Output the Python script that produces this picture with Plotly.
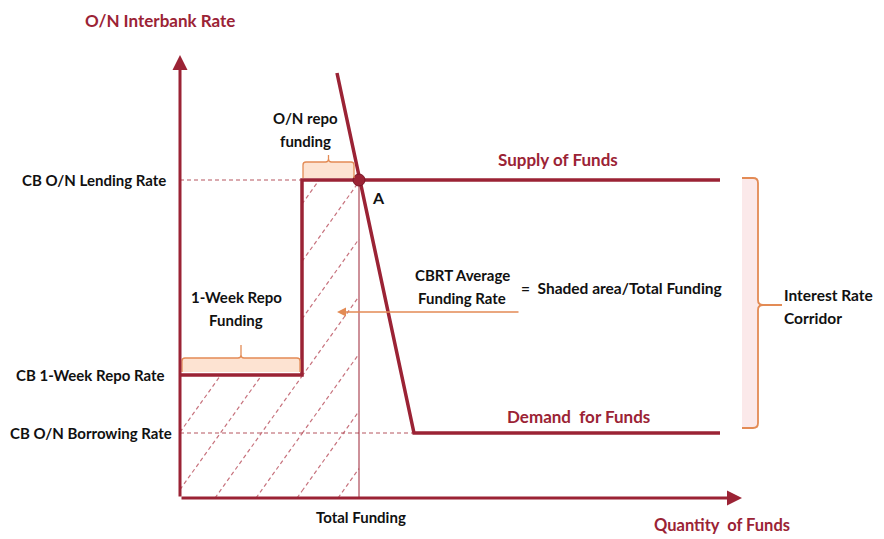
import plotly.graph_objects as go

# ---- schematic data (abstract units) ----
lending_rate = 31.8      # CB O/N Lending Rate
repo_rate = 12.3         # CB 1-Week Repo Rate
borrowing_rate = 6.5     # CB O/N Borrowing Rate
q_repo = 12.2            # 1-week repo funding quantity
q_total = 17.9           # total funding (point A)
supply_end = 54.0
demand_top = [15.7, 42.5]  # demand curve start (q, rate)
demand_kink = 23.4
x_axis_end = 56.2
y_axis_end = 44.3
rate_labels = ["CB O/N Lending Rate", "CB 1-Week Repo Rate", "CB O/N Borrowing Rate"]
rate_values = [lending_rate, repo_rate, borrowing_rate]
rate_label_shift = [-12, -13, -6]
hatch_slope = 1.4
hatch_spacing = 4.1
hatch_first = 3.5

MAROON = "#9b2335"
DASH = "#b5545f"
HATCH = "#c7727d"
ORANGE = "#e38b55"
PEACH = "#fde3d2"
PINK = "#fbe9ea"
FONT = "Lato"

fig = go.Figure()

# hatch lines clipped to shaded staircase region
rects = [(0, q_repo, 0, repo_rate), (q_repo, q_total, 0, lending_rate)]
hx, hy = [], []
for k in range(-12, 6):
    a = hatch_first + k * hatch_spacing
    for (x0, x1, y0, y1) in rects:
        lo = max(x0, a + y0 / hatch_slope)
        hi = min(x1, a + y1 / hatch_slope)
        if lo < hi:
            hx += [lo, hi, None]
            hy += [hatch_slope * (lo - a), hatch_slope * (hi - a), None]
fig.add_trace(go.Scatter(x=hx, y=hy, mode="lines",
                         line=dict(color=HATCH, width=1.2, dash="4px,3px"),
                         hoverinfo="skip"))

# dashed reference lines
fig.add_trace(go.Scatter(x=[0, q_repo], y=[lending_rate, lending_rate], mode="lines",
                         line=dict(color=DASH, width=1, dash="4px,3px")))
fig.add_trace(go.Scatter(x=[0, demand_kink], y=[borrowing_rate, borrowing_rate], mode="lines",
                         line=dict(color=DASH, width=1, dash="4px,3px")))
# total funding vertical
fig.add_trace(go.Scatter(x=[q_total, q_total], y=[0, lending_rate], mode="lines",
                         line=dict(color=MAROON, width=1)))

# brace fills
fig.add_shape(type="rect", x0=0.2, x1=q_repo - 0.2, y0=repo_rate + 0.3, y1=repo_rate + 1.7,
              fillcolor=PEACH, line=dict(width=0), layer="below")
fig.add_shape(type="rect", x0=q_repo + 0.1, x1=q_total - 0.5, y0=lending_rate + 0.2, y1=lending_rate + 1.8,
              fillcolor=PEACH, line=dict(width=0), layer="below")
fig.add_shape(type="rect", x0=x_axis_end, x1=x_axis_end + 1.6, y0=borrowing_rate + 0.5, y1=lending_rate + 0.2,
              fillcolor=PINK, line=dict(width=0), layer="below")


def hbrace(x0, x1, yb, yt, ytick, r=0.3):
    xm = (x0 + x1) / 2
    return (f"M {x0},{yb} L {x0},{yt - r} Q {x0},{yt} {x0 + r},{yt} "
            f"L {xm - r},{yt} Q {xm},{yt} {xm},{yt + r} L {xm},{ytick} "
            f"M {xm},{yt + r} Q {xm},{yt} {xm + r},{yt} "
            f"L {x1 - r},{yt} Q {x1},{yt} {x1},{yt - r} L {x1},{yb}")


fig.add_shape(type="path", path=hbrace(0.2, q_repo - 0.2, repo_rate + 0.3, repo_rate + 1.7, repo_rate + 3.0),
              line=dict(color=ORANGE, width=1.3))
fig.add_shape(type="path", path=hbrace(q_repo + 0.1, q_total - 0.5, lending_rate + 0.2, lending_rate + 1.8,
                                       lending_rate + 2.5),
              line=dict(color=ORANGE, width=1.3))

# corridor brace (vertical)
xl, xv, xt = x_axis_end, x_axis_end + 1.6, x_axis_end + 4.0
yt_, yb_ = lending_rate + 0.2, borrowing_rate + 0.5
ym = 19.3
r = 0.5
cpath = (f"M {xl},{yt_} L {xv - r},{yt_} Q {xv},{yt_} {xv},{yt_ - r} "
         f"L {xv},{ym + r} Q {xv},{ym} {xv + r},{ym} L {xt},{ym} "
         f"M {xv + r},{ym} Q {xv},{ym} {xv},{ym - r} "
         f"L {xv},{yb_ + r} Q {xv},{yb_} {xv - r},{yb_} L {xl},{yb_}")
fig.add_shape(type="path", path=cpath, line=dict(color=ORANGE, width=1.8))

# supply curve
fig.add_trace(go.Scatter(x=[0, q_repo, q_repo, supply_end],
                         y=[repo_rate, repo_rate, lending_rate, lending_rate],
                         mode="lines", line=dict(color=MAROON, width=3.5)))
# demand curve
fig.add_trace(go.Scatter(x=[demand_top[0], demand_kink, supply_end],
                         y=[demand_top[1], borrowing_rate, borrowing_rate],
                         mode="lines", line=dict(color=MAROON, width=3.5)))
# point A
fig.add_trace(go.Scatter(x=[q_total], y=[lending_rate], mode="markers",
                         marker=dict(color=MAROON, size=12, line=dict(color="#7a1526", width=1))))

# axes arrows
fig.add_annotation(x=0, y=y_axis_end, ax=0, ay=0, xref="x", yref="y", axref="x", ayref="y",
                   showarrow=True, arrowhead=2, arrowsize=1, arrowwidth=3, arrowcolor=MAROON, text="")
fig.add_annotation(x=x_axis_end, y=0, ax=0, ay=0, xref="x", yref="y", axref="x", ayref="y",
                   showarrow=True, arrowhead=2, arrowsize=1, arrowwidth=3, arrowcolor=MAROON, text="")
# orange arrow
fig.add_annotation(x=15.7, y=18.6, ax=34.0, ay=18.6, xref="x", yref="y", axref="x", ayref="y",
                   showarrow=True, arrowhead=2, arrowsize=1.2, arrowwidth=1.5, arrowcolor=ORANGE, text="")


def txt(x, y, s, color="#111111", size=15, xanchor="center", xshift=0):
    lines = s.split("\n")
    n = len(lines)
    for i, ln in enumerate(lines):
        yy = y + (n - 1) / 2 * 2.3 - i * 2.3
        fig.add_annotation(x=x, y=yy, text=f"<b>{ln}</b>", showarrow=False, xanchor=xanchor,
                           yanchor="middle", xshift=xshift,
                           font=dict(family=FONT, size=size, color=color))


txt(-2.0, 47.8, "O/N Interbank Rate", color=MAROON, size=17)
for lab, val, sh in zip(rate_labels, rate_values, rate_label_shift):
    txt(0, val, lab, xanchor="right", xshift=sh)
txt(12.5, 36.9, "O/N repo\nfunding")
txt(5.6, 19.0, "1-Week Repo\nFunding")
txt(37.8, 33.9, "Supply of Funds", color=MAROON, size=17)
txt(19.8, 30.1, "A", size=16)
txt(28.2, 21.2, "CBRT Average\nFunding Rate")
txt(33.9, 21.0, "=  Shaded area/Total Funding", xanchor="left", size=15.5)
txt(60.2, 19.2, "Interest Rate\nCorridor", xanchor="left", size=15.5)
txt(39.8, 8.2, "Demand  for Funds", color=MAROON, size=17)
txt(18.1, -1.9, "Total Funding", size=15)
txt(54.2, -2.7, "Quantity  of Funds", color=MAROON, size=16.5)

fig.update_layout(width=884, height=539, margin=dict(l=0, r=0, t=0, b=0),
                  paper_bgcolor="white", plot_bgcolor="white", showlegend=False,
                  xaxis=dict(range=[-17.2, 71.2], visible=False, fixedrange=True),
                  yaxis=dict(range=[-4.9, 49.0], visible=False, fixedrange=True))
fig.write_html("out.html")
